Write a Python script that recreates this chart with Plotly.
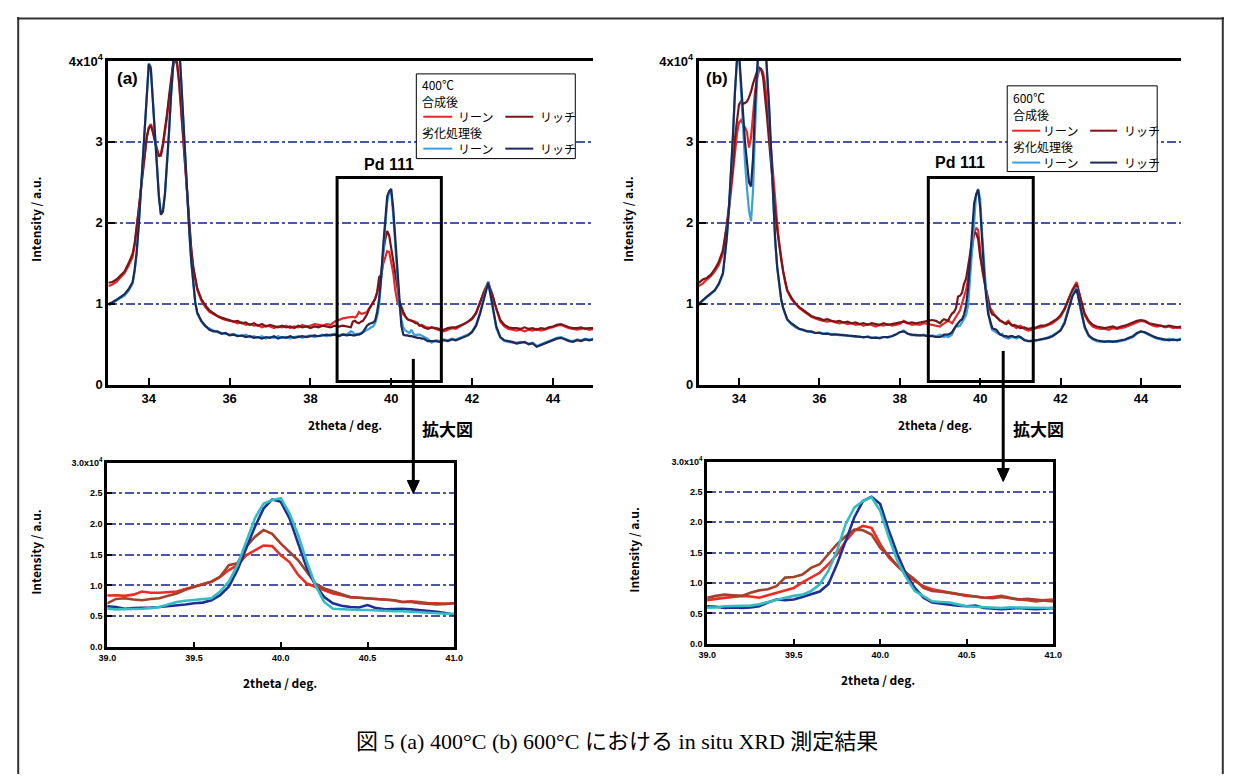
import plotly.graph_objects as go

# ---------------- sampling positions (2theta, deg) ----------------
two_theta = [
    33.0, 33.1, 33.2, 33.3, 33.4, 33.5, 33.6,
    33.65, 33.7, 33.75, 33.8, 33.85, 33.9, 33.95, 34.0, 34.05, 34.1, 34.15, 34.2, 34.25, 34.3, 34.35, 34.4,
    34.45, 34.5, 34.55, 34.6, 34.65, 34.7, 34.75, 34.8, 34.85, 34.9, 34.95, 35.0, 35.05, 35.1, 35.15, 35.2,
    35.3, 35.4, 35.5, 35.6, 35.7, 35.8, 35.9, 36.0, 36.1, 36.2, 36.3, 36.4, 36.5, 36.6, 36.7, 36.8, 36.9, 37.0,
    37.1, 37.2, 37.3, 37.4, 37.5, 37.6, 37.7, 37.8, 37.9, 38.0, 38.1, 38.2, 38.3, 38.4, 38.5, 38.6, 38.7, 38.8, 38.9, 39.0,
    39.05, 39.1, 39.15, 39.2, 39.25, 39.3, 39.35, 39.4, 39.45, 39.5, 39.55, 39.6, 39.65, 39.7, 39.75, 39.8, 39.85, 39.9, 39.95, 40.0,
    40.05, 40.1, 40.15, 40.2, 40.25, 40.3, 40.35, 40.4, 40.45, 40.5, 40.55, 40.6, 40.65, 40.7, 40.75, 40.8, 40.85, 40.9, 40.95, 41.0,
    41.1, 41.2, 41.3, 41.4, 41.5, 41.6, 41.7, 41.8, 41.9, 42.0, 42.1, 42.2, 42.3, 42.4, 42.5, 42.6, 42.7, 42.8, 42.9, 43.0,
    43.1, 43.2, 43.3, 43.4, 43.5, 43.6, 43.7, 43.8, 43.9, 44.0, 44.1, 44.2, 44.3, 44.4, 44.5, 44.6, 44.7, 44.8, 44.9, 45.0,
]

# ---------------- (a) 400 C, intensity x10^4 ----------------
a_fresh_lean = [
    1.22, 1.24, 1.27, 1.32, 1.38, 1.47, 1.58,
    1.72, 1.92, 2.14, 2.38, 2.62, 2.85, 3.05, 3.18, 3.22, 3.15, 3.02, 2.92, 2.84, 2.83, 2.95, 3.10,
    3.30, 3.52, 3.75, 3.93, 4.02, 3.95, 3.72, 3.42, 3.05, 2.70, 2.32, 1.96, 1.66, 1.44, 1.28, 1.17,
    1.04, 0.96, 0.90, 0.87, 0.84, 0.82, 0.80, 0.79, 0.78, 0.76, 0.77, 0.74, 0.75, 0.73, 0.74, 0.71, 0.73, 0.72,
    0.70, 0.72, 0.71, 0.73, 0.70, 0.72, 0.71, 0.74, 0.72, 0.73, 0.75, 0.74, 0.73, 0.75, 0.74, 0.78, 0.80, 0.82, 0.83, 0.84,
    0.84, 0.83, 0.85, 0.90, 0.88, 0.88, 0.89, 0.90, 0.94, 0.98, 1.01, 1.06, 1.14, 1.25, 1.33, 1.49, 1.57, 1.65, 1.64, 1.49,
    1.38, 1.17, 1.03, 0.98, 0.92, 0.87, 0.84, 0.81, 0.80, 0.79, 0.78, 0.78, 0.76, 0.73, 0.74, 0.73, 0.71, 0.71, 0.70, 0.71,
    0.69, 0.67, 0.66, 0.68, 0.70, 0.69, 0.72, 0.74, 0.77, 0.81, 0.88, 1.02, 1.16, 1.27, 1.10, 0.92, 0.78, 0.72, 0.69, 0.68,
    0.67, 0.68, 0.66, 0.68, 0.67, 0.69, 0.67, 0.68, 0.70, 0.71, 0.73, 0.74, 0.72, 0.70, 0.69, 0.68, 0.69, 0.70, 0.68, 0.69,
]
a_fresh_rich = [
    1.26, 1.27, 1.30, 1.35, 1.40, 1.50, 1.62,
    1.75, 1.94, 2.16, 2.40, 2.64, 2.86, 3.06, 3.17, 3.20, 3.12, 3.00, 2.90, 2.82, 2.85, 2.98, 3.14,
    3.34, 3.56, 3.78, 3.96, 4.04, 3.98, 3.75, 3.45, 3.08, 2.72, 2.35, 1.99, 1.69, 1.46, 1.30, 1.19,
    1.06, 0.98, 0.92, 0.88, 0.85, 0.83, 0.81, 0.80, 0.78, 0.79, 0.76, 0.77, 0.74, 0.76, 0.73, 0.75, 0.72, 0.74,
    0.72, 0.71, 0.73, 0.71, 0.72, 0.70, 0.73, 0.71, 0.72, 0.70, 0.72, 0.71, 0.73, 0.72, 0.71, 0.73, 0.72, 0.73, 0.72, 0.71,
    0.78, 0.79, 0.77, 0.76, 0.78, 0.79, 0.83, 0.87, 0.93, 0.98, 1.02, 1.06, 1.14, 1.33, 1.36, 1.63, 1.79, 1.90, 1.84, 1.68,
    1.55, 1.41, 1.22, 1.03, 0.95, 0.90, 0.85, 0.81, 0.80, 0.79, 0.78, 0.76, 0.76, 0.73, 0.73, 0.71, 0.70, 0.69, 0.70, 0.71,
    0.70, 0.69, 0.68, 0.70, 0.71, 0.71, 0.73, 0.75, 0.78, 0.82, 0.89, 1.03, 1.15, 1.25, 1.12, 0.94, 0.80, 0.74, 0.71, 0.70,
    0.70, 0.69, 0.71, 0.69, 0.70, 0.68, 0.70, 0.69, 0.71, 0.72, 0.74, 0.75, 0.73, 0.71, 0.70, 0.70, 0.71, 0.69, 0.70, 0.70,
]
a_aged_lean = [
    0.98, 1.01, 1.04, 1.07, 1.10, 1.16, 1.25,
    1.40, 1.62, 1.95, 2.35, 2.80, 3.25, 3.65, 3.97, 3.93, 3.55, 3.12, 2.70, 2.34, 2.11, 2.15, 2.35,
    2.70, 3.10, 3.55, 3.95, 4.25, 4.40, 4.20, 3.75, 3.25, 2.75, 2.30, 1.90, 1.52, 1.22, 1.00, 0.88,
    0.78, 0.72, 0.69, 0.67, 0.65, 0.64, 0.63, 0.62, 0.63, 0.61, 0.60, 0.62, 0.59, 0.60, 0.58, 0.60, 0.57, 0.59,
    0.58, 0.60, 0.58, 0.59, 0.57, 0.59, 0.60, 0.58, 0.60, 0.61, 0.59, 0.61, 0.62, 0.60, 0.62, 0.63, 0.61, 0.63, 0.62, 0.66,
    0.65, 0.62, 0.63, 0.63, 0.64, 0.65, 0.66, 0.68, 0.69, 0.71, 0.72, 0.76, 0.84, 0.98, 1.25, 1.60, 1.95, 2.25, 2.40, 2.36,
    2.09, 1.68, 1.28, 1.00, 0.81, 0.71, 0.67, 0.65, 0.64, 0.68, 0.63, 0.61, 0.62, 0.62, 0.61, 0.60, 0.58, 0.57, 0.55, 0.52,
    0.55, 0.54, 0.56, 0.55, 0.57, 0.56, 0.58, 0.60, 0.62, 0.66, 0.74, 0.90, 1.10, 1.28, 0.98, 0.70, 0.58, 0.54, 0.53, 0.52,
    0.52, 0.53, 0.52, 0.51, 0.52, 0.48, 0.50, 0.52, 0.54, 0.56, 0.58, 0.59, 0.57, 0.55, 0.54, 0.56, 0.55, 0.57, 0.56, 0.57,
]
a_aged_rich = [
    1.00, 1.02, 1.05, 1.08, 1.12, 1.18, 1.27,
    1.42, 1.64, 1.97, 2.37, 2.82, 3.27, 3.66, 3.96, 3.90, 3.52, 3.10, 2.68, 2.32, 2.10, 2.14, 2.36,
    2.72, 3.12, 3.58, 3.98, 4.28, 4.42, 4.22, 3.78, 3.28, 2.78, 2.32, 1.92, 1.54, 1.24, 1.02, 0.89,
    0.79, 0.73, 0.68, 0.66, 0.66, 0.63, 0.64, 0.61, 0.62, 0.60, 0.61, 0.59, 0.60, 0.58, 0.59, 0.57, 0.59, 0.58,
    0.60, 0.57, 0.59, 0.58, 0.60, 0.58, 0.59, 0.60, 0.59, 0.60, 0.61, 0.60, 0.61, 0.62, 0.61, 0.62, 0.60, 0.62, 0.61, 0.62,
    0.61, 0.61, 0.62, 0.62, 0.63, 0.65, 0.69, 0.73, 0.75, 0.76, 0.77, 0.79, 0.90, 1.06, 1.33, 1.71, 2.09, 2.33, 2.39, 2.42,
    2.17, 1.82, 1.38, 1.00, 0.73, 0.62, 0.61, 0.61, 0.60, 0.60, 0.59, 0.58, 0.58, 0.58, 0.57, 0.57, 0.55, 0.54, 0.54, 0.54,
    0.54, 0.53, 0.55, 0.54, 0.56, 0.55, 0.57, 0.59, 0.61, 0.65, 0.73, 0.88, 1.08, 1.26, 1.00, 0.72, 0.59, 0.55, 0.54, 0.53,
    0.51, 0.52, 0.53, 0.50, 0.51, 0.47, 0.49, 0.51, 0.53, 0.55, 0.57, 0.58, 0.56, 0.54, 0.53, 0.55, 0.54, 0.56, 0.55, 0.56,
]

# ---------------- (b) 600 C, intensity x10^4 ----------------
b_fresh_lean = [
    1.22, 1.25, 1.30, 1.34, 1.40, 1.48, 1.62,
    1.78, 1.95, 2.15, 2.38, 2.62, 2.88, 3.10, 3.24, 3.27, 3.22, 3.18, 3.12, 2.93, 3.05, 3.35, 3.62,
    3.78, 3.88, 3.90, 3.86, 3.72, 3.50, 3.22, 2.90, 2.58, 2.28, 2.00, 1.76, 1.56, 1.40, 1.26, 1.16,
    1.06, 1.00, 0.95, 0.91, 0.87, 0.84, 0.82, 0.80, 0.79, 0.78, 0.79, 0.77, 0.76, 0.77, 0.75, 0.76, 0.74, 0.75,
    0.73, 0.75, 0.74, 0.72, 0.74, 0.73, 0.75, 0.73, 0.74, 0.75, 0.79, 0.76, 0.74, 0.75, 0.74, 0.76, 0.75, 0.74, 0.73, 0.72,
    0.74, 0.76, 0.78, 0.79, 0.78, 0.76, 0.80, 0.84, 0.88, 0.92, 1.01, 1.09, 1.17, 1.31, 1.47, 1.69, 1.86, 1.94, 1.91, 1.64,
    1.42, 1.28, 1.14, 1.03, 0.95, 0.90, 0.87, 0.84, 0.81, 0.79, 0.78, 0.76, 0.77, 0.79, 0.76, 0.73, 0.72, 0.70, 0.72, 0.73,
    0.69, 0.67, 0.68, 0.70, 0.71, 0.72, 0.74, 0.76, 0.80, 0.84, 0.93, 1.05, 1.18, 1.27, 1.05, 0.86, 0.77, 0.72, 0.70, 0.69,
    0.69, 0.68, 0.70, 0.69, 0.70, 0.71, 0.73, 0.75, 0.77, 0.79, 0.78, 0.75, 0.73, 0.72, 0.73, 0.71, 0.72, 0.70, 0.71, 0.70,
]
b_fresh_rich = [
    1.26, 1.30, 1.32, 1.36, 1.43, 1.52, 1.66,
    1.80, 1.98, 2.20, 2.42, 2.72, 3.05, 3.30, 3.46, 3.50, 3.47, 3.48, 3.50, 3.55, 3.62, 3.72, 3.80,
    3.87, 3.92, 3.90, 3.80, 3.58, 3.30, 3.00, 2.70, 2.42, 2.15, 1.92, 1.72, 1.55, 1.40, 1.27, 1.17,
    1.08, 1.01, 0.96, 0.92, 0.88, 0.85, 0.83, 0.82, 0.80, 0.81, 0.79, 0.78, 0.79, 0.77, 0.78, 0.76, 0.77, 0.75,
    0.76, 0.74, 0.76, 0.75, 0.74, 0.76, 0.74, 0.75, 0.76, 0.77, 0.78, 0.76, 0.77, 0.76, 0.77, 0.78, 0.79, 0.80, 0.79, 0.76,
    0.79, 0.81, 0.80, 0.79, 0.84, 0.88, 0.90, 0.95, 1.09, 1.10, 1.14, 1.25, 1.31, 1.47, 1.64, 1.77, 1.88, 1.87, 1.80, 1.58,
    1.45, 1.28, 1.17, 1.06, 0.92, 0.87, 0.86, 0.84, 0.81, 0.79, 0.78, 0.76, 0.75, 0.77, 0.75, 0.73, 0.74, 0.73, 0.71, 0.70,
    0.71, 0.69, 0.70, 0.71, 0.73, 0.73, 0.75, 0.78, 0.81, 0.86, 0.94, 1.06, 1.17, 1.24, 1.07, 0.88, 0.79, 0.74, 0.72, 0.71,
    0.70, 0.71, 0.72, 0.70, 0.72, 0.73, 0.75, 0.77, 0.79, 0.80, 0.79, 0.76, 0.75, 0.74, 0.73, 0.72, 0.73, 0.72, 0.71, 0.72,
]
b_aged_lean = [
    0.98, 1.04, 1.08, 1.12, 1.16, 1.24, 1.36,
    1.58, 1.82, 2.15, 2.56, 3.05, 3.60, 4.00, 4.10, 3.60, 3.10, 2.75, 2.42, 2.15, 2.02, 2.40, 3.15,
    3.90, 4.30, 4.50, 4.50, 4.30, 3.90, 3.40, 2.85, 2.28, 1.78, 1.45, 1.22, 1.05, 0.94, 0.86, 0.80,
    0.75, 0.71, 0.69, 0.67, 0.66, 0.65, 0.64, 0.65, 0.63, 0.64, 0.62, 0.63, 0.61, 0.62, 0.60, 0.61, 0.59, 0.60,
    0.58, 0.60, 0.58, 0.59, 0.57, 0.59, 0.58, 0.60, 0.62, 0.65, 0.67, 0.63, 0.61, 0.62, 0.61, 0.62, 0.60, 0.61, 0.60, 0.62,
    0.61, 0.59, 0.60, 0.59, 0.60, 0.62, 0.68, 0.73, 0.72, 0.73, 0.77, 0.81, 0.86, 0.98, 1.31, 1.69, 2.08, 2.35, 2.42, 2.30,
    1.86, 1.47, 1.14, 0.92, 0.76, 0.68, 0.66, 0.65, 0.63, 0.62, 0.63, 0.59, 0.58, 0.57, 0.58, 0.59, 0.58, 0.57, 0.58, 0.59,
    0.56, 0.54, 0.55, 0.55, 0.56, 0.57, 0.59, 0.61, 0.64, 0.68, 0.78, 0.94, 1.12, 1.20, 0.92, 0.70, 0.60, 0.56, 0.54, 0.53,
    0.54, 0.53, 0.54, 0.53, 0.54, 0.55, 0.57, 0.59, 0.63, 0.66, 0.64, 0.61, 0.59, 0.57, 0.56, 0.55, 0.57, 0.55, 0.56, 0.57,
]
b_aged_rich = [
    1.00, 1.05, 1.09, 1.13, 1.17, 1.25, 1.38,
    1.60, 1.84, 2.18, 2.58, 3.08, 3.62, 4.02, 4.12, 3.75, 3.30, 3.00, 2.75, 2.50, 2.45, 2.80, 3.45,
    3.95, 4.30, 4.45, 4.45, 4.25, 3.88, 3.45, 2.90, 2.30, 1.80, 1.46, 1.23, 1.06, 0.95, 0.87, 0.81,
    0.76, 0.72, 0.69, 0.68, 0.66, 0.66, 0.64, 0.64, 0.63, 0.63, 0.62, 0.62, 0.62, 0.61, 0.61, 0.60, 0.60, 0.59,
    0.59, 0.59, 0.58, 0.58, 0.58, 0.59, 0.59, 0.60, 0.62, 0.65, 0.66, 0.63, 0.62, 0.61, 0.61, 0.61, 0.60, 0.60, 0.59, 0.59,
    0.60, 0.62, 0.62, 0.62, 0.63, 0.65, 0.69, 0.73, 0.76, 0.79, 0.81, 0.87, 0.98, 1.20, 1.53, 1.97, 2.24, 2.35, 2.41, 2.19,
    1.75, 1.36, 1.09, 0.87, 0.79, 0.70, 0.69, 0.68, 0.65, 0.62, 0.61, 0.60, 0.60, 0.59, 0.60, 0.60, 0.59, 0.59, 0.60, 0.59,
    0.55, 0.54, 0.54, 0.55, 0.56, 0.57, 0.58, 0.60, 0.63, 0.67, 0.76, 0.92, 1.10, 1.18, 0.95, 0.72, 0.61, 0.57, 0.55, 0.54,
    0.53, 0.54, 0.53, 0.54, 0.55, 0.56, 0.58, 0.60, 0.64, 0.66, 0.65, 0.62, 0.60, 0.58, 0.57, 0.56, 0.55, 0.56, 0.55, 0.56,
]

series_names = ["合成後 リーン", "合成後 リッチ", "劣化処理後 リーン", "劣化処理後 リッチ"]
panel_a = [a_fresh_lean, a_fresh_rich, a_aged_lean, a_aged_rich]
panel_b = [b_fresh_lean, b_fresh_rich, b_aged_lean, b_aged_rich]
for s in panel_a + panel_b:
    if len(s) != len(two_theta):
        raise ValueError(f"length mismatch {len(s)} vs {len(two_theta)}")

main_colors = ["#e8262a", "#7a1518", "#3b9fdf", "#1b2a57"]
inset_colors = ["#ee2b25", "#a3412c", "#1f2f8f", "#34bcc4"]

# ---------------- geometry helpers (target picture pixels -> paper) ----------------
W, H = 1225, 774
SX, AX = 0.9855, 16.6
SY, AY = 0.9815, 14.9


def PX(x):
    return (x - AX) / SX / W


def PY(y):
    return 1 - (y - AY) / SY / H


fig = go.Figure()

for vals, col, nm in zip(panel_a, main_colors, series_names):
    fig.add_trace(go.Scatter(x=two_theta, y=vals, mode="lines", name=nm,
                             line=dict(color=col, width=2.2), xaxis="x", yaxis="y"))
for vals, col, nm in zip(panel_b, main_colors, series_names):
    fig.add_trace(go.Scatter(x=two_theta, y=vals, mode="lines", name=nm,
                             line=dict(color=col, width=2.2), xaxis="x2", yaxis="y2"))

# inset traces (zoom of the same data)
sel = [i for i, t in enumerate(two_theta) if 38.85 <= t <= 41.15]
ins_x = [two_theta[i] for i in sel]
for k in range(4):
    fig.add_trace(go.Scatter(x=ins_x, y=[panel_a[k][i] for i in sel], mode="lines", name=series_names[k],
                             line=dict(color=inset_colors[k], width=2.6), xaxis="x3", yaxis="y3"))
for k in range(4):
    fig.add_trace(go.Scatter(x=ins_x, y=[panel_b[k][i] for i in sel], mode="lines", name=series_names[k],
                             line=dict(color=inset_colors[k], width=2.6), xaxis="x4", yaxis="y4"))

GRID = "#4a57a8"
TICKFONT_MAIN = dict(family="Liberation Sans, Arial, sans-serif", size=13, color="black", weight="bold")
TICKFONT_INS = dict(family="Liberation Sans, Arial, sans-serif", size=9, color="black", weight="bold")


def xmain(x0, x1):
    return dict(domain=[PX(x0), PX(x1)], range=[33, 45], tickvals=[34, 36, 38, 40, 42, 44],
                ticks="inside", ticklen=7, tickwidth=2, tickcolor="black",
                showline=True, linewidth=3, linecolor="black", mirror=True,
                showgrid=False, zeroline=False, tickfont=TICKFONT_MAIN, fixedrange=True)


def ymain(y0, y1):
    return dict(domain=[PY(y1), PY(y0)], range=[0, 4], tickvals=[0, 1, 2, 3, 4],
                ticktext=["0", "1", "2", "3", "4x10<sup>4</sup>"],
                ticks="inside", ticklen=7, tickwidth=2, tickcolor="black",
                showline=True, linewidth=3, linecolor="black", mirror=False,
                showgrid=True, gridcolor=GRID, griddash="dashdot", gridwidth=1.5,
                zeroline=False, tickfont=TICKFONT_MAIN, fixedrange=True)


def xins(x0, x1):
    return dict(domain=[PX(x0), PX(x1)], range=[39, 41], tickvals=[39, 39.5, 40, 40.5, 41],
                ticktext=["39.0", "39.5", "40.0", "40.5", "41.0"],
                ticks="inside", ticklen=5, tickwidth=2, tickcolor="black",
                showline=True, linewidth=3, linecolor="black", mirror=True,
                showgrid=False, zeroline=False, tickfont=TICKFONT_INS, fixedrange=True)


def yins(y0, y1):
    return dict(domain=[PY(y1), PY(y0)], range=[0, 3], tickvals=[0, 0.5, 1, 1.5, 2, 2.5, 3],
                ticktext=["0.0", "0.5", "1.0", "1.5", "2.0", "2.5", "3.0x10<sup>4</sup>"],
                ticks="inside", ticklen=5, tickwidth=2, tickcolor="black",
                showline=True, linewidth=3, linecolor="black", mirror=True,
                showgrid=True, gridcolor=GRID, griddash="dashdot", gridwidth=1.5,
                zeroline=False, tickfont=TICKFONT_INS, fixedrange=True)


xa = xmain(108, 593); xa["anchor"] = "y"
ya = ymain(59, 384); ya["anchor"] = "x"
xb = xmain(698.5, 1181); xb["anchor"] = "y2"
yb = ymain(59, 384); yb["anchor"] = "x2"
xc = xins(107, 454); xc["anchor"] = "y3"
yc = yins(462, 647); yc["anchor"] = "x3"
xd = xins(707, 1053); xd["anchor"] = "y4"
yd = yins(461, 644); yd["anchor"] = "x4"

shapes = []
annotations = []

JP = "Noto Sans CJK JP, sans-serif"


def text(x, y, s, size=12, family=JP, bold=False, xanchor="center", angle=0, color="black"):
    annotations.append(dict(x=PX(x), y=PY(y), xref="paper", yref="paper", text=s, showarrow=False,
                            xanchor=xanchor, yanchor="middle", textangle=angle,
                            font=dict(family=family, size=size, color=color,
                                      weight="bold" if bold else "normal")))


def pline(x0, y0, x1, y1, color="black", width=1):
    shapes.append(dict(type="line", xref="paper", yref="paper", x0=PX(x0), y0=PY(y0),
                       x1=PX(x1), y1=PY(y1), line=dict(color=color, width=width)))


# outer frame of the figure (drawn at the figure's own edges)
shapes.append(dict(type="line", xref="paper", yref="paper", x0=0, x1=1, y0=0.998, y1=0.998,
                   line=dict(color="#333333", width=2)))
shapes.append(dict(type="line", xref="paper", yref="paper", x0=0.001, x1=0.001, y0=0, y1=1,
                   line=dict(color="#333333", width=2)))
shapes.append(dict(type="line", xref="paper", yref="paper", x0=0.999, x1=0.999, y0=0, y1=1,
                   line=dict(color="#333333", width=2)))

# Pd 111 boxes (data coordinates)
shapes.append(dict(type="rect", xref="x", yref="y", x0=38.66, x1=41.24, y0=0.04, y1=2.56,
                   line=dict(color="black", width=3)))
shapes.append(dict(type="rect", xref="x2", yref="y2", x0=38.71, x1=41.32, y0=0.04, y1=2.56,
                   line=dict(color="black", width=3)))

# arrows to the insets (shaft + filled head)
for (xp, y_tail, y_head) in [(413, 358, 493), (1003, 350, 481)]:
    pline(xp, y_tail, xp, y_head - 10, width=3)
    path = (f"M {PX(xp - 6)},{PY(y_head - 13)} L {PX(xp + 6)},{PY(y_head - 13)} "
            f"L {PX(xp)},{PY(y_head)} Z")
    shapes.append(dict(type="path", xref="paper", yref="paper", path=path,
                       fillcolor="black", line=dict(color="black", width=1)))

# panel labels and annotations
text(127, 77, "(a)", size=17, family="Liberation Sans, Arial", bold=True)
text(717, 77, "(b)", size=17, family="Liberation Sans, Arial", bold=True)
text(389, 163, "Pd 111", size=16, family="Liberation Sans, Arial", bold=True)
text(960, 161, "Pd 111", size=16, family="Liberation Sans, Arial", bold=True)
text(447, 428, "拡大図", size=17, bold=True)
text(1038, 428, "拡大図", size=17, bold=True)

# axis titles
text(345, 424, "2theta / deg.", size=12, bold=True)
text(935, 424, "2theta / deg.", size=12, bold=True)
text(35, 218, "Intensity / a.u.", size=12, bold=True, angle=-90)
text(627, 218, "Intensity / a.u.", size=12, bold=True, angle=-90)
text(280, 683, "2theta / deg.", size=12, bold=True)
text(878, 680, "2theta / deg.", size=12, bold=True)
text(35, 552, "Intensity / a.u.", size=12, bold=True, angle=-90)
text(633, 550, "Intensity / a.u.", size=12, bold=True, angle=-90)


def legend_box(x0, y0, x1, y1, temp, rows, c1, c2, t1, t2):
    shapes.append(dict(type="rect", xref="paper", yref="paper", x0=PX(x0), x1=PX(x1), y0=PY(y1), y1=PY(y0),
                       line=dict(color="black", width=1), fillcolor="white"))
    text(x0 + 4, rows[0], temp, size=12, xanchor="left")
    text(x0 + 4, rows[1], "合成後", size=12, xanchor="left")
    pline(c1[0], rows[2], c1[1], rows[2], color=main_colors[0], width=2)
    text(t1, rows[2], "リーン", size=12, xanchor="left")
    pline(c2[0], rows[2], c2[1], rows[2], color=main_colors[1], width=2)
    text(t2, rows[2], "リッチ", size=12, xanchor="left")
    text(x0 + 4, rows[3], "劣化処理後", size=12, xanchor="left")
    pline(c1[0], rows[4], c1[1], rows[4], color=main_colors[2], width=2)
    text(t1, rows[4], "リーン", size=12, xanchor="left")
    pline(c2[0], rows[4], c2[1], rows[4], color=main_colors[3], width=2)
    text(t2, rows[4], "リッチ", size=12, xanchor="left")


legend_box(416, 72, 575, 157, "400℃", [83, 100, 115, 131, 147], (423, 452), (505, 533), 456, 538)
legend_box(1007, 84, 1157, 170, "600℃", [96, 113, 129, 145, 161], (1012, 1040), (1090, 1117), 1041, 1122)

# caption
text(617, 742, "図 5 (a) 400°C (b) 600°C における in situ XRD 測定結果", size=22,
     family="Liberation Serif, Times New Roman, Noto Sans CJK JP, serif")

fig.update_layout(
    width=W, height=H, margin=dict(l=0, r=0, t=0, b=0),
    paper_bgcolor="white", plot_bgcolor="white", showlegend=False,
    xaxis=xa, yaxis=ya, xaxis2=xb, yaxis2=yb, xaxis3=xc, yaxis3=yc, xaxis4=xd, yaxis4=yd,
    shapes=shapes, annotations=annotations,
)

fig.write_html("out.html")
